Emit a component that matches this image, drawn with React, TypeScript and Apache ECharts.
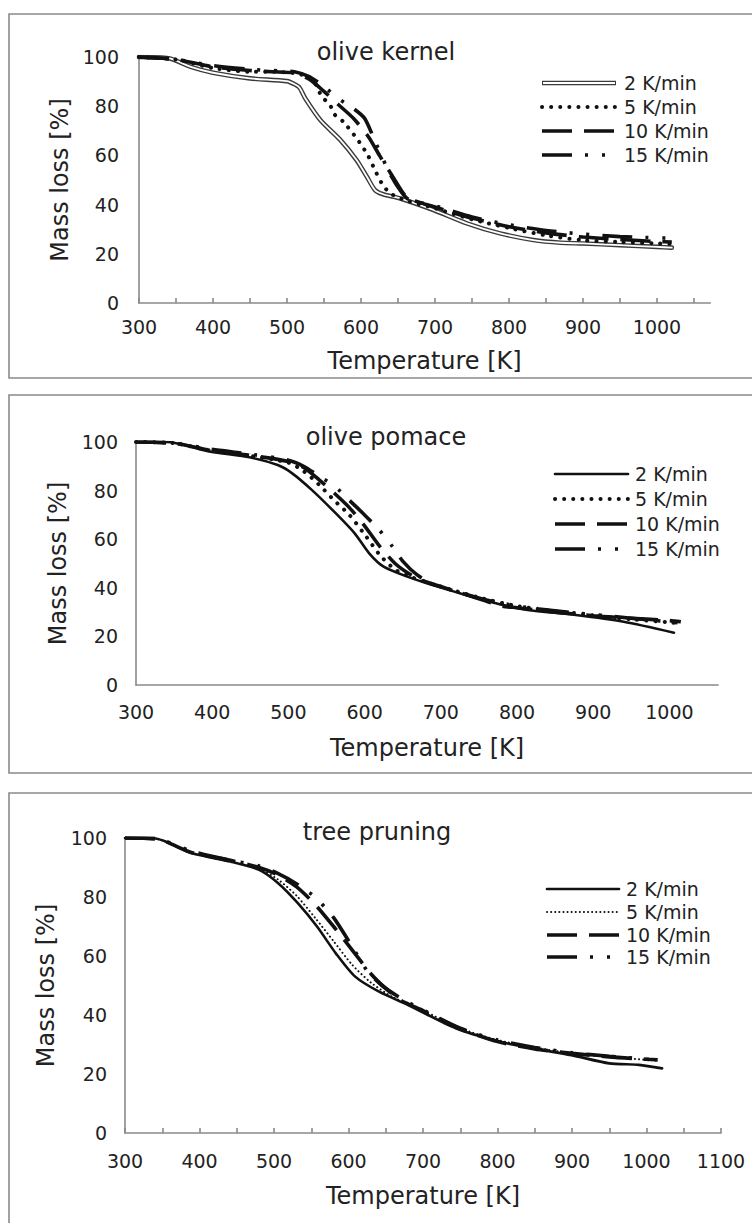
import React, { useEffect, useRef } from "react";
import * as echarts from "echarts";

// ---------------- data ----------------
const legendNames = ["2 K/min", "5 K/min", "10 K/min", "15 K/min"];
const panelTitles = ["olive kernel", "olive pomace", "tree pruning"];
const yTicks = [0, 20, 40, 60, 80, 100];
const xLabels12 = [300, 400, 500, 600, 700, 800, 900, 1000];
const xLabels3 = [300, 400, 500, 600, 700, 800, 900, 1000, 1100];
const xTicks1 = [300, 350, 400, 450, 500, 550, 600, 650, 700, 750, 800, 850, 900, 950, 1000, 1050];
const xTicks3 = [300, 350, 400, 450, 500, 550, 600, 650, 700, 750, 800, 850, 900, 950, 1000, 1050, 1100];

// olive kernel
const kernel2 = [[300,100],[340,99.5],[370,96],[400,93.6],[450,91.3],[500,90.2],[511,88.8],[517,87.5],[525,83],[545,74.4],[572,66.3],[594,58.1],[608,51.3],[619,45.9],[630,44.2],[653,42.5],[698,37.8],[743,32.4],[788,28.3],[833,25.6],[870,24.5],[900,24.2],[950,23.5],[1000,22.8],[1020,22.5]];
const kernel5 = [[300,100],[350,99],[400,95.5],[450,94],[480,94],[510,93.5],[520,92.8],[535,90.6],[547,84],[558,80.5],[565,76.4],[576,73.7],[594,67],[609,60.2],[621,52.7],[628,48.7],[639,44.7],[660,41.8],[700,38.5],[750,34],[800,30.5],[850,27.5],[900,25.5],[950,24.8],[1000,24.2],[1020,24]];
const kernel10 = [[300,100],[350,99],[400,96],[450,94.5],[480,94],[510,93.5],[530,91],[550,86],[570,80.5],[590,75],[610,67.6],[625,60],[643,51.3],[661,43.2],[680,40.8],[700,39],[750,34.5],[800,31],[850,28.5],[900,26.8],[950,25.8],[1000,25],[1020,24.8]];
const kernel15 = [[300,100],[350,99],[400,96.5],[450,95],[480,94.5],[510,94],[530,92],[550,88],[570,83],[590,79],[605,75],[620,65],[640,52],[655,45],[665,42],[700,39.5],[750,35],[800,31.8],[850,29.5],[900,28],[950,27],[1000,26.5],[1020,26.3]];

// olive pomace
const pomace2 = [[300,100],[340,100],[398,96],[449,93.7],[486,90.5],[505,87.1],[531,80.2],[562,70.7],[587,62.4],[606,54.2],[625,48.7],[656,44.6],[688,41.2],[726,37.7],[782,32.9],[814,30.9],[877,28.8],[940,26],[1006,21.5]];
const pomace5 = [[300,100],[350,99.5],[400,96.3],[450,94.3],[500,91.5],[520,88],[540,82.5],[560,76],[580,70],[600,62],[620,53.5],[640,47.5],[660,44.5],[700,40.5],[750,36],[800,32.5],[850,30.5],[900,28.7],[950,27],[1000,25.8],[1015,25.2]];
const pomace10 = [[300,100],[350,99.5],[400,96.5],[450,94.5],[500,92],[520,89.5],[540,84.5],[560,79],[580,73],[600,65.5],[620,57],[640,50],[660,45.5],[680,42.5],[700,40.5],[750,35.5],[780,32.5],[800,31.8],[850,30],[900,28.5],[950,27.5],[1000,26.5],[1015,26]];
const pomace15 = [[300,100],[350,99.5],[400,97],[450,95],[500,92.5],[520,90],[540,86],[560,82],[580,76],[600,70],[620,63.5],[635,57.6],[650,51],[669,45.3],[690,41.5],[720,38.5],[760,35],[800,32.5],[850,30.5],[900,29],[950,27.5],[1000,26],[1015,25.5]];

// tree pruning
const tree2 = [[300,100],[339,99.9],[390,94.8],[442,92],[480,89.2],[506,84.6],[532,77.9],[558,69.9],[583,60.9],[609,53],[641,47.9],[680,43.4],[744,35.5],[802,31],[847,28.7],[899,26.4],[950,23.6],[990,23.1],[1021,21.9]];
const tree5 = [[300,100],[340,99.8],[390,95],[440,92],[480,89.5],[505,86],[530,80.5],[555,73],[580,65],[605,57],[630,51],[660,46],[700,41.5],[750,35.5],[800,31.5],[850,29],[900,27],[950,25.8],[1000,24.8],[1015,24.5]];
const tree10 = [[300,100],[340,99.8],[390,95],[440,92.5],[480,90],[505,87.5],[530,83.5],[555,77.5],[580,70],[605,62],[630,54],[650,49],[670,45],[700,41.5],[750,35.3],[800,31],[850,28.5],[900,27],[950,25.8],[1000,25],[1015,24.8]];
const tree15 = [[300,100],[340,99.8],[390,95.5],[440,92.5],[480,90.5],[505,88],[530,84.5],[555,80],[580,73],[609,61.5],[625,55],[645,50],[667,46.2],[690,43],[750,35.5],[800,31.5],[850,29],[900,27.2],[950,26],[1000,25],[1015,24.8]];

// ---------------- styles ----------------
const FONT = "DejaVu Sans";
const AXIS_GRAY = "#8a8a8a";
const TEXT = "#222";
const INK = "#111";

const S_SOLID = { color: INK, width: 2.6, type: "solid", cap: "round" };
const S_DOUBLE_OUT = { color: "#3a3a3a", width: 4.6, type: "solid", cap: "round" };
const S_DOUBLE_IN = { color: "#ffffff", width: 1.8, type: "solid", cap: "round" };
const S_BOLDDOT = { color: INK, width: 4, type: [0.1, 9], cap: "round" };
const S_FINEDOT = { color: INK, width: 2, type: [0.1, 4], cap: "round" };
const S_DASH = { color: INK, width: 3.6, type: [30, 12], cap: "butt" };
const S_DASHDOT = { color: INK, width: 3.6, type: [30, 13, 3, 14, 3, 13], cap: "butt" };

type Panel = {
  top: number; height: number; left: number; xMax: number; pxPerK: number;
  xTicks: number[] | null; xLabels: number[]; labelMarginX: number; nameGapX: number;
  labelMarginY: number; nameGapY: number;
  boxTop: number; boxBottom: number;
  titleX: number; titleY: number;
  legX1: number; legX2: number; legTextX: number; legY: number[];
  double2: boolean; fine5: boolean;
};

const panels: Panel[] = [
  { top: 57, height: 246, left: 139, xMax: 1072, pxPerK: 0.74, xTicks: xTicks1, xLabels: xLabels12, labelMarginX: 14, nameGapX: 46, labelMarginY: 20, nameGapY: 67,
    boxTop: 14, boxBottom: 378, titleX: 386, titleY: 52, legX1: 542, legX2: 616, legTextX: 624, legY: [83, 107, 131, 155], double2: true, fine5: false },
  { top: 442, height: 243, left: 136, xMax: 1064, pxPerK: 0.762, xTicks: null, xLabels: xLabels12, labelMarginX: 17, nameGapX: 51, labelMarginY: 18, nameGapY: 66,
    boxTop: 395, boxBottom: 773, titleX: 386, titleY: 437, legX1: 555, legX2: 628, legTextX: 635, legY: [474, 499, 524, 549], double2: false, fine5: false },
  { top: 838, height: 295, left: 125, xMax: 1100, pxPerK: 0.745, xTicks: xTicks3, xLabels: xLabels3, labelMarginX: 18, nameGapX: 51, labelMarginY: 18, nameGapY: 67,
    boxTop: 793, boxBottom: 1260, titleX: 377, titleY: 832, legX1: 547, legX2: 619, legTextX: 626, legY: [889, 912, 935, 957], double2: false, fine5: true },
];

const panelData = [
  [kernel2, kernel5, kernel10, kernel15],
  [pomace2, pomace5, pomace10, pomace15],
  [tree2, tree5, tree10, tree15],
];

function buildOption() {
  const grids: any[] = [];
  const xAxes: any[] = [];
  const yAxes: any[] = [];
  const series: any[] = [];
  const graphics: any[] = [];

  panels.forEach((p, i) => {
    const width = (p.xMax - 300) * p.pxPerK;
    grids.push({ left: p.left, top: p.top, width, height: p.height, containLabel: false });
    xAxes.push({
      type: "value", gridIndex: i, min: 300, max: p.xMax, interval: 50,
      name: "Temperature [K]", nameLocation: "middle", nameGap: p.nameGapX,
      nameTextStyle: { fontFamily: FONT, fontSize: 24, color: TEXT },
      axisLine: { show: true, onZero: false, lineStyle: { color: AXIS_GRAY, width: 1.6 } },
      axisTick: p.xTicks
        ? { show: true, inside: true, length: 5, customValues: p.xTicks, lineStyle: { color: AXIS_GRAY, width: 1.6 } }
        : { show: false },
      axisLabel: {
        show: true, customValues: p.xLabels, margin: p.labelMarginX, showMaxLabel: true, showMinLabel: true, hideOverlap: false,
        fontFamily: FONT, fontSize: 19, color: TEXT,
        formatter: (v: number) => (p.xLabels.indexOf(v) >= 0 ? String(v) : ""),
      },
      splitLine: { show: false },
    });
    yAxes.push({
      type: "value", gridIndex: i, min: 0, max: 100, interval: 20,
      name: "Mass loss [%]", nameLocation: "middle", nameGap: p.nameGapY, nameRotate: 90,
      nameTextStyle: { fontFamily: FONT, fontSize: 24, color: TEXT },
      axisLine: { show: true, lineStyle: { color: AXIS_GRAY, width: 1.6 } },
      axisTick: { show: false },
      axisLabel: { show: true, customValues: yTicks, margin: p.labelMarginY, fontFamily: FONT, fontSize: 19, color: TEXT },
      splitLine: { show: false },
    });

    const d = panelData[i];
    const base = { type: "line", xAxisIndex: i, yAxisIndex: i, showSymbol: false, symbol: "none", smooth: 0.25, silent: true, animation: false };
    if (p.double2) {
      series.push({ ...base, name: legendNames[0], data: d[0], lineStyle: S_DOUBLE_OUT, z: 2 });
      series.push({ ...base, name: legendNames[0] + " ", data: d[0], lineStyle: S_DOUBLE_IN, z: 3 });
    } else {
      series.push({ ...base, name: legendNames[0], data: d[0], lineStyle: S_SOLID, z: 2 });
    }
    series.push({ ...base, name: legendNames[1], data: d[1], lineStyle: p.fine5 ? S_FINEDOT : S_BOLDDOT, z: 4 });
    series.push({ ...base, name: legendNames[2], data: d[2], lineStyle: S_DASH, z: 4 });
    series.push({ ...base, name: legendNames[3], data: d[3], lineStyle: S_DASHDOT, z: 4 });

    // panel frame
    graphics.push({
      type: "rect", z: 0, silent: true,
      shape: { x: 9, y: p.boxTop, width: 800, height: p.boxBottom - p.boxTop },
      style: { fill: "none", stroke: AXIS_GRAY, lineWidth: 1.6 },
    });
    // title
    graphics.push({
      type: "text", z: 10, x: p.titleX, y: p.titleY,
      style: { text: panelTitles[i], fontFamily: FONT, fontSize: 24, fill: TEXT, textAlign: "center", align: "center", textVerticalAlign: "middle", verticalAlign: "middle" },
    });
    // legend
    const legStyles = [
      p.double2 ? null : S_SOLID,
      p.fine5 ? S_FINEDOT : S_BOLDDOT,
      S_DASH,
      S_DASHDOT,
    ];
    legendNames.forEach((nm, k) => {
      const y = p.legY[k];
      if (k === 0 && p.double2) {
        graphics.push({ type: "line", z: 10, shape: { x1: p.legX1, y1: y, x2: p.legX2, y2: y }, style: { stroke: S_DOUBLE_OUT.color, lineWidth: S_DOUBLE_OUT.width } });
        graphics.push({ type: "line", z: 11, shape: { x1: p.legX1 + 1, y1: y, x2: p.legX2 - 1, y2: y }, style: { stroke: S_DOUBLE_IN.color, lineWidth: S_DOUBLE_IN.width } });
      } else {
        const st: any = legStyles[k];
        graphics.push({
          type: "line", z: 10, shape: { x1: p.legX1, y1: y, x2: p.legX2, y2: y },
          style: { stroke: st.color, lineWidth: st.width, lineDash: st.type === "solid" ? null : st.type, lineCap: st.cap },
        });
      }
      graphics.push({
        type: "text", z: 10, x: p.legTextX, y,
        style: { text: nm, fontFamily: FONT, fontSize: 19, fill: TEXT, textAlign: "left", align: "left", textVerticalAlign: "middle", verticalAlign: "middle" },
      });
    });
  });

  return {
    animation: false,
    backgroundColor: "#ffffff",
    grid: grids,
    xAxis: xAxes,
    yAxis: yAxes,
    series,
    graphic: graphics,
  };
}

export default function App() {
  const ref = useRef<HTMLDivElement>(null);
  useEffect(() => {
    document.body.style.margin = "0";
    if (!ref.current) return;
    const chart = echarts.init(ref.current, null, { renderer: "svg" });
    chart.setOption(buildOption() as any);
    return () => chart.dispose();
  }, []);
  return <div ref={ref} style={{ width: 752, height: 1223, background: "#fff" }} />;
}
